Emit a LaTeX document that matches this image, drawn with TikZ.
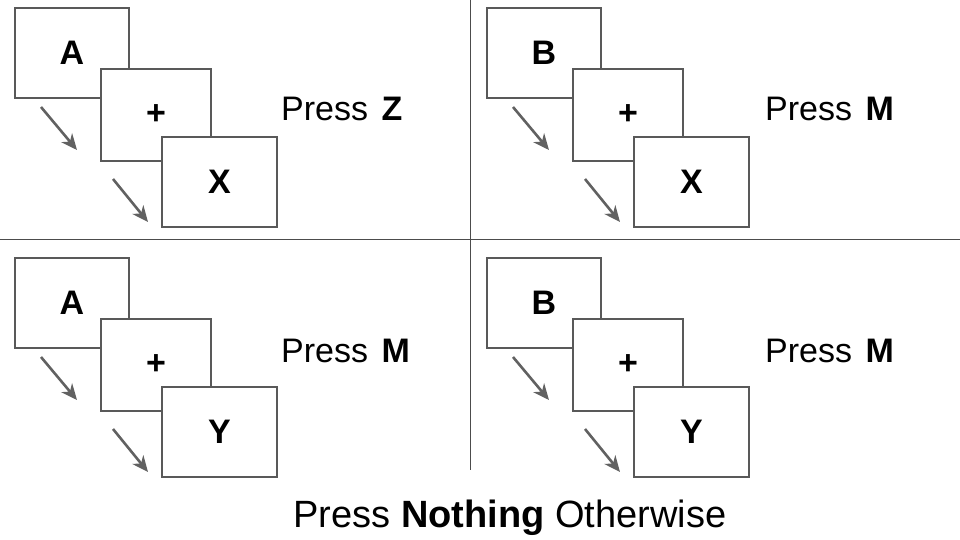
\documentclass[tikz,border=0pt]{standalone}
\usepackage{fontspec}
\setmainfont{Liberation Sans}
\usetikzlibrary{arrows.meta}

\tikzset{
  card/.style={draw=black!65, line width=1.1pt, fill=white,
    minimum width=114pt, minimum height=90pt, inner sep=0pt,
    font=\fontsize{34}{40}\selectfont\bfseries},
  flow/.style={draw=black!62, line width=2.6pt,
    -{Stealth[length=16pt,width=14pt,inset=5pt]}},
  rule/.style={draw=black!70, line width=1pt}
}

\begin{document}
\begin{tikzpicture}[x=1pt,y=-1pt,font=\fontsize{34}{40}\selectfont]
\useasboundingbox (0,0) rectangle (960,540);

% dividers
\draw[rule] (0,239) -- (960,239);
\draw[rule] (470,0) -- (470,470);

% four trials
\foreach \dx/\dy/\first/\last/\key/\lx/\ly/\q in
    {0/0/A/X/Z/281/121/ax, 472/0/B/X/M/293/121/bx,
     0/250/A/Y/M/281/112/ay, 472/250/B/Y/M/293/112/by}{
  \begin{scope}[shift={(\dx,\dy)}]
    \node[card] (\q-cue) at (72,53) {\first};
    \node[card, minimum width=110pt, minimum height=92pt] (\q-fix) at (156,115) {+};
    \node[card, minimum width=115pt] (\q-probe) at (219.5,182) {\last};
    % time arrows
    \coordinate (\q-s1) at (41,107);
    \coordinate (\q-e1) at (77,150);
    \coordinate (\q-s2) at (113,179);
    \coordinate (\q-e2) at (148,222);
    \draw[flow] (\q-s1) -- (\q-e1);
    \draw[flow] (\q-s2) -- (\q-e2);
    \node[anchor=base west, inner sep=0pt] (\q-resp) at (\lx,\ly) {Press\hspace{4pt} \textbf{\key}};
  \end{scope}
}

\node[anchor=base, inner sep=0pt, font=\fontsize{38}{44}\selectfont] (note) at (510,527)
  {Press \textbf{Nothing} Otherwise};
\end{tikzpicture}
\end{document}
